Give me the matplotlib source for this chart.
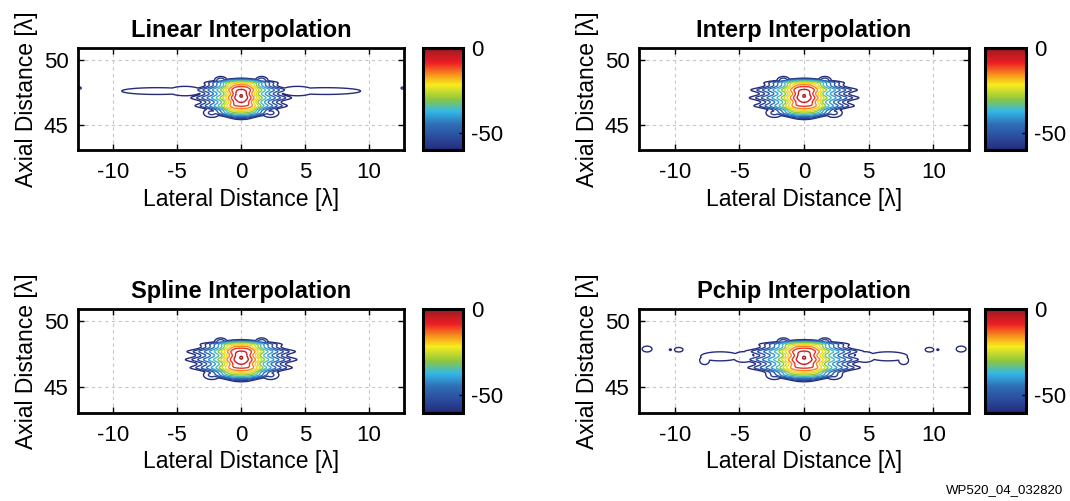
import numpy as np
import matplotlib
matplotlib.use("Agg")
import matplotlib.pyplot as plt
from matplotlib.colors import LinearSegmentedColormap, Normalize
from matplotlib.cm import ScalarMappable

plt.rcParams['font.family'] = ['Liberation Sans', 'DejaVu Sans']
plt.rcParams['axes.unicode_minus'] = False

titles = ["Linear Interpolation", "Interp Interpolation",
          "Spline Interpolation", "Pchip Interpolation"]

# contour levels [dB] and colour scale
levels = [-60, -55, -50, -45, -40, -35, -30, -25, -20, -15, -10, -5, -1]
db_range = [-60, 0]
cbar_ticks = [-50, 0]
xticks = [-10, -5, 0, 5, 10]
yticks = [45, 50]
xlim = [-12.75, 12.75]
ylim = [43.1, 50.9]

# main lobe: distance from the peak where each level is reached
lobe_db = [0, -5, -10, -15, -20, -25, -30, -35, -40, -45, -50, -55, -60]
lat_dist = [0, 0.5, 0.75, 0.98, 1.2, 1.4, 1.6, 1.9, 2.25, 2.6, 3.0, 3.4, 3.85]
axial_up = [0, 0.5, 0.72, 0.86, 0.97, 1.05, 1.11, 1.16, 1.2, 1.24, 1.28, 1.32, 1.36]
axial_down = [0, 0.5, 0.8, 0.98, 1.1, 1.21, 1.31, 1.41, 1.5, 1.58, 1.66, 1.74, 1.82]
peak_x, peak_y = 0.0, 47.25
lat_scale = [0.93, 1.0, 1.03, 1.12]      # per panel
ripple_amp = 0.1
ripple_period = 0.62
core_power = 2.6     # rounded-square core
rim_power = 1.3      # diamond-like outer rim

# side lobes (right side, mirrored): x, y, half-width, half-height, peak dB
horns = [(1.6, 48.42, 0.5, 0.32, -52), (2.3, 45.95, 0.65, 0.35, -54)]
side_lobes = [
    [(6.6, 47.62, 2.75, 0.26, -56), (4.4, 47.62, 1.3, 0.36, -57),
     (12.62, 47.85, 0.1, 0.08, -58)],
    [],
    [],
    [(6.5, 47.35, 1.5, 0.34, -56), (7.7, 47.05, 0.38, 0.32, -57),
     (4.7, 47.3, 0.8, 0.4, -57),
     (9.7, 47.85, 0.33, 0.17, -57), (10.35, 47.85, 0.08, 0.06, -59),
     (12.15, 47.9, 0.38, 0.22, -57)],
]

cmap = LinearSegmentedColormap.from_list("psf", [
    (0.0, '#262b7a'), (0.12, '#2a4a9c'), (0.25, '#2f6db5'), (0.38, '#33b8e8'),
    (0.5, '#8cc63f'), (0.64, '#f8ec1d'), (0.74, '#f7941d'), (0.86, '#ec1c24'),
    (1.0, '#9b1b1f')])
norm = Normalize(vmin=db_range[0], vmax=db_range[1])


def psf_field(X, Y, scale, lobes):
    att = [-v for v in lobe_db] + [400]
    dy = Y - peak_y
    stretch = 1 + ripple_amp * np.sin(2 * np.pi * dy / ripple_period)
    lat = np.abs(X - peak_x) * stretch / scale
    a_x = np.interp(lat, lat_dist + [lat_dist[-1] * 6], att)
    a_up = np.interp(dy, axial_up + [axial_up[-1] * 6], att)
    a_dn = np.interp(-dy, axial_down + [axial_down[-1] * 6], att)
    a_y = np.where(dy > 0, a_up, a_dn)
    z_core = -(a_x ** core_power + a_y ** core_power) ** (1 / core_power)
    z_rim = -(a_x ** rim_power + a_y ** rim_power) ** (1 / rim_power)
    w = np.clip(-z_core / 60, 0, 1)
    Z = (1 - w) * z_core + w * z_rim
    for cx, cy, sx, sy, pk in horns + lobes:
        for sgn in (1, -1):
            r2 = ((X - sgn * cx) / sx) ** 2 + ((Y - cy) / sy) ** 2
            Z = np.maximum(Z, -60 + (pk + 60) * (1 - r2))
    return Z


x = np.linspace(xlim[0], xlim[1], 641)
y = np.linspace(ylim[0], ylim[1], 391)
X, Y = np.meshgrid(x, y)

fig = plt.figure(figsize=(10.7, 5.01), dpi=100)

ax_pos = [[0.0732, 0.7006, 0.3044, 0.203], [0.5975, 0.7006, 0.308, 0.203],
          [0.0732, 0.1763, 0.3044, 0.2064], [0.5975, 0.1763, 0.308, 0.2064]]
cb_pos = [[0.3953, 0.7006, 0.0374, 0.203], [0.9206, 0.7006, 0.0383, 0.203],
          [0.3953, 0.1763, 0.0374, 0.2064], [0.9206, 0.1763, 0.0383, 0.2064]]

for i in range(4):
    ax = fig.add_axes(ax_pos[i])
    Z = psf_field(X, Y, lat_scale[i], side_lobes[i])
    ax.contour(X, Y, Z, levels=levels, cmap=cmap, norm=norm, linewidths=1.0)
    ax.set_xlim(xlim)
    ax.set_ylim(ylim)
    ax.set_xticks(xticks)
    ax.set_yticks(yticks)
    ax.set_axisbelow(True)
    ax.grid(True, linestyle=(0, (3, 3)), color='#c8c8c8', linewidth=0.8)
    ax.tick_params(direction='in', top=True, right=True, length=4, width=1,
                   labelsize=16)
    ax.tick_params(axis='x', pad=9)
    ax.tick_params(axis='y', pad=7)
    for s in ax.spines.values():
        s.set_linewidth(2.0)
    ax.set_title(titles[i], fontsize=17, fontweight='bold', pad=8)
    ax.set_xlabel("Lateral Distance [λ]", fontsize=16.5, labelpad=3)
    ax.set_ylabel("Axial Distance [λ]", fontsize=16.5, labelpad=4)

    cax = fig.add_axes(cb_pos[i])
    cb = fig.colorbar(ScalarMappable(norm=norm, cmap=cmap), cax=cax)
    cb.set_ticks(cbar_ticks)
    cb.outline.set_linewidth(2.2)
    cax.tick_params(direction='in', length=3, width=1, labelsize=16, pad=6)

fig.text(0.9935, 0.022, "WP520_04_032820", fontsize=9.5, ha='right', va='center')

fig.savefig("out.png", dpi=100)
